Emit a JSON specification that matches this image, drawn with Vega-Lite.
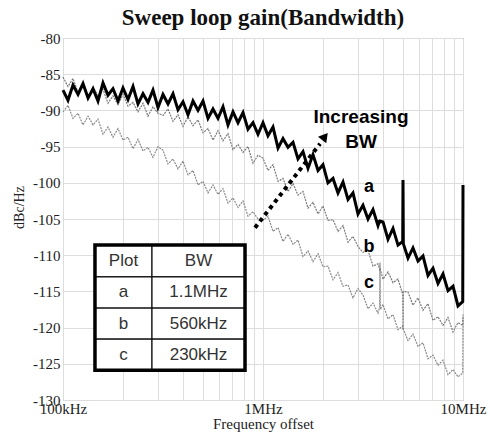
{
  "$schema": "https://vega.github.io/schema/vega-lite/v6.json",
  "width": 400,
  "height": 362,
  "autosize": {"type": "none"},
  "padding": {"left": 63, "top": 38, "right": 27, "bottom": 34},
  "background": "white",
  "config": {"view": {"stroke": "#aaaaaa", "strokeWidth": 1}, "font": "Liberation Serif"},
  "title": {"text": "Sweep loop gain(Bandwidth)", "font": "Liberation Serif", "fontSize": 23, "fontWeight": "bold", "color": "#111111", "anchor": "middle", "offset": 1},
  "datasets": {
    "curves": [
      {"f":100,"a":-87.2,"b":-85.4,"c":-90.2},
      {"f":105.9,"a":-88.6,"b":-86.7,"c":-89.3},
      {"f":112.2,"a":-86.5,"b":-85.6,"c":-91.1},
      {"f":118.9,"a":-87.8,"b":-87.5,"c":-90.4},
      {"f":125.9,"a":-86.3,"b":-86.7,"c":-92.0},
      {"f":133.4,"a":-88.3,"b":-88.2,"c":-90.8},
      {"f":141.3,"a":-87.0,"b":-86.7,"c":-92.0},
      {"f":149.6,"a":-88.7,"b":-88.0,"c":-91.2},
      {"f":158.5,"a":-86.2,"b":-87.1,"c":-93.3},
      {"f":167.9,"a":-87.9,"b":-89.0,"c":-92.3},
      {"f":177.8,"a":-87.0,"b":-88.0,"c":-93.7},
      {"f":188.4,"a":-88.7,"b":-89.2,"c":-92.5},
      {"f":199.5,"a":-86.9,"b":-87.8,"c":-94.1},
      {"f":211.3,"a":-88.5,"b":-89.4,"c":-93.7},
      {"f":223.9,"a":-86.7,"b":-88.9,"c":-95.3},
      {"f":237.1,"a":-89.1,"b":-90.2,"c":-94.0},
      {"f":251.2,"a":-87.7,"b":-89.0,"c":-95.6},
      {"f":266.1,"a":-88.9,"b":-90.8,"c":-95.1},
      {"f":281.8,"a":-87.2,"b":-89.5,"c":-96.5},
      {"f":298.5,"a":-89.6,"b":-90.4,"c":-95.0},
      {"f":316.2,"a":-87.8,"b":-90.7,"c":-95.5},
      {"f":335,"a":-89.1,"b":-89.8,"c":-97.4},
      {"f":354.8,"a":-87.7,"b":-91.5,"c":-96.7},
      {"f":375.8,"a":-89.9,"b":-90.6,"c":-98.1},
      {"f":398.1,"a":-88.8,"b":-92.2,"c":-97.0},
      {"f":421.7,"a":-90.6,"b":-90.9,"c":-98.9},
      {"f":446.7,"a":-88.7,"b":-92.1,"c":-98.3},
      {"f":473.2,"a":-90.0,"b":-91.3,"c":-100.3},
      {"f":501.2,"a":-88.7,"b":-93.1,"c":-99.8},
      {"f":530.9,"a":-91.1,"b":-92.5,"c":-101.4},
      {"f":562.3,"a":-89.8,"b":-94.1,"c":-100.3},
      {"f":595.7,"a":-91.1,"b":-92.8,"c":-101.6},
      {"f":631,"a":-89.5,"b":-94.2,"c":-100.8},
      {"f":668.3,"a":-92.0,"b":-93.2,"c":-102.8},
      {"f":707.9,"a":-90.2,"b":-95.4,"c":-102.1},
      {"f":749.9,"a":-91.7,"b":-94.7,"c":-103.4},
      {"f":794.3,"a":-90.3,"b":-95.8,"c":-102.5},
      {"f":841.4,"a":-92.6,"b":-95.0,"c":-104.6},
      {"f":891.3,"a":-91.7,"b":-97.3,"c":-104.0},
      {"f":944.1,"a":-93.3,"b":-96.2,"c":-105.0},
      {"f":1000,"a":-91.7,"b":-96.6,"c":-105.2},
      {"f":1059,"a":-93.5,"b":-98.3,"c":-104.6},
      {"f":1122,"a":-92.3,"b":-97.5,"c":-106.7},
      {"f":1189,"a":-95.2,"b":-99.8,"c":-106.2},
      {"f":1259,"a":-93.9,"b":-99.4,"c":-108.1},
      {"f":1334,"a":-95.1,"b":-101.2,"c":-107.1},
      {"f":1413,"a":-94.4,"b":-100.1,"c":-108.5},
      {"f":1496,"a":-96.7,"b":-101.7,"c":-107.9},
      {"f":1585,"a":-95.7,"b":-101.2,"c":-110.2},
      {"f":1679,"a":-98.0,"b":-103.5,"c":-109.4},
      {"f":1778,"a":-96.1,"b":-102.7,"c":-110.9},
      {"f":1884,"a":-98.3,"b":-104.3,"c":-109.8},
      {"f":1995,"a":-97.5,"b":-103.2,"c":-111.6},
      {"f":2113,"a":-100.0,"b":-105.2,"c":-111.5},
      {"f":2239,"a":-99.4,"b":-105.1,"c":-113.4},
      {"f":2371,"a":-101.4,"b":-106.7,"c":-112.4},
      {"f":2512,"a":-99.9,"b":-105.9,"c":-114.3},
      {"f":2661,"a":-102.3,"b":-108.2,"c":-114.1},
      {"f":2818,"a":-101.4,"b":-107.4,"c":-115.9},
      {"f":2985,"a":-104.3,"b":-108.8,"c":-114.6},
      {"f":3162,"a":-103.1,"b":-109.6,"c":-115.5},
      {"f":3350,"a":-105.0,"b":-109.3,"c":-117.4},
      {"f":3548,"a":-103.7,"b":-111.5,"c":-116.6},
      {"f":3758,"a":-105.9,"b":-111.2,"c":-118.0},
      {"f":3830,"a":-105.2,"b":-111.9,"c":-117.2},
      {"f":3846,"a":-105.6,"b":-112.2,"c":-111.0},
      {"f":3862,"a":-105.3,"b":-112.0,"c":-117.5},
      {"f":3981,"a":-105.4,"b":-113.3,"c":-116.8},
      {"f":4217,"a":-107.8,"b":-112.3,"c":-118.8},
      {"f":4467,"a":-106.3,"b":-113.8,"c":-118.2},
      {"f":4732,"a":-108.6,"b":-113.3,"c":-120.3},
      {"f":4995,"a":-108.1,"b":-115.4,"c":-119.8},
      {"f":5012,"a":-99.6,"b":-120.3,"c":-119.9},
      {"f":5030,"a":-108.4,"b":-115.0,"c":-120.2},
      {"f":5309,"a":-110.4,"b":-115.1,"c":-121.8},
      {"f":5623,"a":-109.0,"b":-116.9,"c":-120.9},
      {"f":5957,"a":-110.8,"b":-115.9,"c":-122.6},
      {"f":6310,"a":-110.1,"b":-117.6,"c":-122.1},
      {"f":6683,"a":-112.8,"b":-116.7,"c":-124.3},
      {"f":7079,"a":-111.8,"b":-119.0,"c":-123.8},
      {"f":7499,"a":-113.9,"b":-118.5,"c":-125.2},
      {"f":7943,"a":-112.6,"b":-119.7,"c":-124.5},
      {"f":8414,"a":-114.9,"b":-118.6,"c":-126.5},
      {"f":8913,"a":-114.3,"b":-120.6,"c":-125.8},
      {"f":9441,"a":-117.0,"b":-119.3,"c":-126.8},
      {"f":9970,"a":-116.4,"b":-119.7,"c":-126.3},
      {"f":10000,"a":-100.3,"b":-118.2,"c":-118.6}
    ],
    "cells": [
      {"f":144.5,"f2":278.6,"v":-108.6,"v2":-113.0},
      {"f":278.6,"f2":813,"v":-108.6,"v2":-113.0},
      {"f":144.5,"f2":278.6,"v":-113.0,"v2":-117.3},
      {"f":278.6,"f2":813,"v":-113.0,"v2":-117.3},
      {"f":144.5,"f2":278.6,"v":-117.3,"v2":-121.6},
      {"f":278.6,"f2":813,"v":-117.3,"v2":-121.6},
      {"f":144.5,"f2":278.6,"v":-121.6,"v2":-125.9},
      {"f":278.6,"f2":813,"v":-121.6,"v2":-125.9}
    ],
    "outer": [{"f":144.5,"f2":813,"v":-108.6,"v2":-125.9}],
    "tabletext": [
      {"f":200.7,"v":-110.8,"t":"Plot"},
      {"f":476,"v":-110.8,"t":"BW"},
      {"f":200.7,"v":-115.15,"t":"a"},
      {"f":476,"v":-115.15,"t":"1.1MHz"},
      {"f":200.7,"v":-119.45,"t":"b"},
      {"f":476,"v":-119.45,"t":"560kHz"},
      {"f":200.7,"v":-123.75,"t":"c"},
      {"f":476,"v":-123.75,"t":"230kHz"}
    ],
    "arrow": [{"f":912,"v":-106.2},{"f":1930,"v":-94.6}],
    "head": [{"f":2040,"v":-93.6}],
    "notes": [
      {"f":3090,"v":-90.9,"t":"Increasing"},
      {"f":3090,"v":-94.4,"t":"BW"}
    ],
    "labels": [
      {"f":3388,"v":-100.6,"t":"a"},
      {"f":3388,"v":-108.9,"t":"b"},
      {"f":3388,"v":-113.8,"t":"c"}
    ]
  },
  "encoding": {
    "x": {"field": "f", "type": "quantitative", "title": "Frequency offset",
          "scale": {"type": "log", "domain": [100, 10000], "nice": false},
          "axis": {"values": [100,200,300,400,500,600,700,800,900,1000,2000,3000,4000,5000,6000,7000,8000,9000,10000],
                   "labelExpr": "datum.value == 100 ? '100kHz' : (datum.value == 1000 ? '1MHz' : (datum.value == 10000 ? '10MHz' : ''))",
                   "grid": true, "gridColor": "#dddddd", "ticks": false, "domain": false, "labelOverlap": false, "labelFlush": false,
                   "labelFont": "Liberation Serif", "labelFontSize": 15, "labelColor": "#222222", "labelPadding": 1,
                   "titleFont": "Liberation Serif", "titleFontSize": 15, "titleFontWeight": "normal", "titleColor": "#222222", "titlePadding": 0}},
    "y": {"field": "v", "type": "quantitative", "title": "dBc/Hz",
          "scale": {"domain": [-130, -80], "nice": false, "zero": false},
          "axis": {"values": [-130,-125,-120,-115,-110,-105,-100,-95,-90,-85,-80],
                   "labelExpr": "'-' + abs(datum.value)",
                   "grid": true, "gridColor": "#dddddd", "ticks": false, "domain": false, "labelOverlap": false,
                   "labelFont": "Liberation Serif", "labelFontSize": 15, "labelColor": "#222222", "labelPadding": 3,
                   "titleFont": "Liberation Serif", "titleFontSize": 14, "titleFontWeight": "normal", "titleColor": "#222222", "titlePadding": 6, "titleY": 169}}
  },
  "layer": [
    {
      "data": {"name": "curves"},
      "transform": [{"fold": ["a", "b", "c"], "as": ["s", "v"]}, {"filter": "datum.s == 'c'"}],
      "mark": {"type": "line", "color": "#8a8a8a", "strokeWidth": 1.2, "strokeDash": [2, 1]}
    },
    {
      "data": {"name": "curves"},
      "transform": [{"fold": ["a", "b", "c"], "as": ["s", "v"]}, {"filter": "datum.s == 'b'"}],
      "mark": {"type": "line", "color": "#7a7a7a", "strokeWidth": 1.2, "strokeDash": [2, 1]}
    },
    {
      "data": {"name": "curves"},
      "transform": [{"fold": ["a", "b", "c"], "as": ["s", "v"]}, {"filter": "datum.s == 'a'"}],
      "mark": {"type": "line", "color": "#000000", "strokeWidth": 3}
    },
    {
      "data": {"name": "cells"},
      "mark": {"type": "rect", "fill": "white", "stroke": "#111111", "strokeWidth": 1.2},
      "encoding": {"x2": {"field": "f2"}, "y2": {"field": "v2"}}
    },
    {
      "data": {"name": "outer"},
      "mark": {"type": "rect", "fillOpacity": 0, "stroke": "#000000", "strokeWidth": 3.5},
      "encoding": {"x2": {"field": "f2"}, "y2": {"field": "v2"}}
    },
    {
      "data": {"name": "tabletext"},
      "mark": {"type": "text", "font": "Liberation Sans", "fontSize": 17, "color": "#333333", "align": "center", "baseline": "middle"},
      "encoding": {"text": {"field": "t"}}
    },
    {
      "data": {"name": "arrow"},
      "mark": {"type": "line", "color": "#000000", "strokeWidth": 4, "strokeDash": [4, 4]}
    },
    {
      "data": {"name": "head"},
      "mark": {"type": "point", "shape": "triangle-up", "filled": true, "color": "#000000", "opacity": 1, "size": 110, "angle": 38}
    },
    {
      "data": {"name": "notes"},
      "mark": {"type": "text", "font": "Liberation Sans", "fontSize": 19, "fontWeight": "bold", "color": "#000000", "align": "center", "baseline": "middle"},
      "encoding": {"text": {"field": "t"}}
    },
    {
      "data": {"name": "labels"},
      "mark": {"type": "text", "font": "Liberation Sans", "fontSize": 18, "fontWeight": "bold", "color": "#000000", "align": "center", "baseline": "middle"},
      "encoding": {"text": {"field": "t"}}
    }
  ]
}
